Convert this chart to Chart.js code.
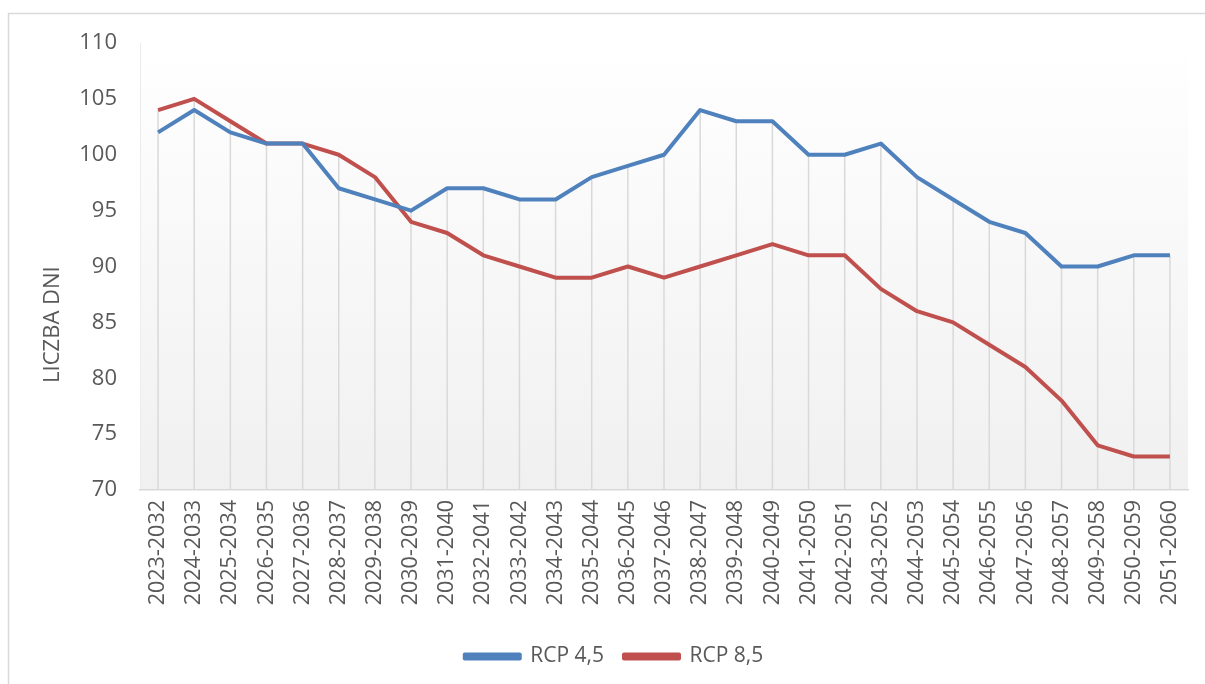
<!DOCTYPE html>
<html lang="pl">
<head>
<meta charset="utf-8">
<title>Liczba dni – RCP 4,5 i RCP 8,5</title>
<script src="https://cdn.jsdelivr.net/npm/chart.js@4/dist/chart.umd.min.js"></script>
<style>
    html, body { margin: 0; padding: 0; background: #ffffff; }
    #wrap { position: relative; width: 1205px; height: 684px; }
</style>
</head>
<body>
<div id="wrap"><canvas id="dniChart"></canvas></div>
<script>
// --- Dane ---
const okresy = [
    '2023-2032', '2024-2033', '2025-2034', '2026-2035', '2027-2036', '2028-2037',
    '2029-2038', '2030-2039', '2031-2040', '2032-2041', '2033-2042', '2034-2043',
    '2035-2044', '2036-2045', '2037-2046', '2038-2047', '2039-2048', '2040-2049',
    '2041-2050', '2042-2051', '2043-2052', '2044-2053', '2045-2054', '2046-2055',
    '2047-2056', '2048-2057', '2049-2058', '2050-2059', '2051-2060'
];
const rcp45 = [102, 104, 102, 101, 101, 97, 96, 95, 97, 97, 96, 96, 98, 99, 100,
               104, 103, 103, 100, 100, 101, 98, 96, 94, 93, 90, 90, 91, 91];
const rcp85 = [104, 105, 103, 101, 101, 100, 98, 94, 93, 91, 90, 89, 89, 90, 89,
               90, 91, 92, 91, 91, 88, 86, 85, 83, 81, 78, 74, 73, 73];
const osY = { min: 70, max: 110, krok: 5 };
const tytulOsiY = 'LICZBA DNI';

// Kolory w stylu Office
const kolory = {
    niebieski: '#4F81BD',
    czerwony: '#C0504D',
    tekst: '#595959',
    linie: '#d9d9d9'
};
const FONT = "'Open Sans', 'Noto Sans', sans-serif";

// Tło obszaru wykresu (gradient) + ramka całego wykresu
const tloPlugin = {
    id: 'tlo',
    beforeDraw(chart) {
        const { ctx, chartArea: a } = chart;
        ctx.save();
        const g = ctx.createLinearGradient(0, a.top, 0, a.bottom);
        g.addColorStop(0, '#ffffff');
        g.addColorStop(1, '#f0f0f0');
        ctx.fillStyle = g;
        ctx.fillRect(a.left, a.top, a.right - a.left, a.bottom - a.top);
        ctx.strokeStyle = '#ececec';
        ctx.lineWidth = 1;
        ctx.beginPath();
        ctx.moveTo(a.left + 0.5, a.top);
        ctx.lineTo(a.left + 0.5, a.bottom);
        ctx.stroke();
        // ramka zewnętrzna
        ctx.strokeStyle = kolory.linie;
        ctx.lineWidth = 1.5;
        ctx.beginPath();
        ctx.moveTo(8.5, chart.height);
        ctx.lineTo(8.5, 13.5);
        ctx.lineTo(chart.width, 13.5);
        ctx.stroke();
        ctx.restore();
    }
};

// Linie pionowe od najwyższego punktu do osi X
const liniePionowePlugin = {
    id: 'liniePionowe',
    beforeDatasetsDraw(chart) {
        const { ctx, scales: { x, y } } = chart;
        ctx.save();
        ctx.strokeStyle = kolory.linie;
        ctx.lineWidth = 1.5;
        okresy.forEach((_, i) => {
            const px = x.getPixelForValue(i);
            const top = y.getPixelForValue(Math.max(rcp45[i], rcp85[i]));
            ctx.beginPath();
            ctx.moveTo(px, top);
            ctx.lineTo(px, y.bottom);
            ctx.stroke();
        });
        ctx.restore();
    }
};

// Tytuł osi Y – obrócony, przesunięty nieco poniżej środka osi
const tytulYPlugin = {
    id: 'tytulY',
    afterDraw(chart) {
        const { ctx, chartArea: a } = chart;
        ctx.save();
        ctx.translate(53, a.top + (a.bottom - a.top) * 0.63);
        ctx.rotate(-Math.PI / 2);
        ctx.font = "22px " + FONT;
        ctx.fillStyle = kolory.tekst;
        ctx.textAlign = 'center';
        ctx.textBaseline = 'middle';
        ctx.fillText(tytulOsiY, 0, 0);
        ctx.restore();
    }
};

const ctx = document.getElementById('dniChart');
new Chart(ctx, {
    type: 'line',
    data: {
        labels: okresy,
        datasets: [
            {
                label: 'RCP 4,5',
                data: rcp45,
                borderColor: kolory.niebieski,
                backgroundColor: kolory.niebieski,
                borderWidth: 4,
                pointRadius: 0,
                tension: 0,
                borderJoinStyle: 'round'
            },
            {
                label: 'RCP 8,5',
                data: rcp85,
                borderColor: kolory.czerwony,
                backgroundColor: kolory.czerwony,
                borderWidth: 4,
                pointRadius: 0,
                tension: 0,
                borderJoinStyle: 'round'
            }
        ]
    },
    options: {
        responsive: true,
        maintainAspectRatio: false,
        animation: false,
        layout: { padding: { left: 40, right: 17, top: 43, bottom: 7 } },
        scales: {
            x: {
                offset: true,
                grid: { display: false, drawTicks: false },
                border: { display: true, color: kolory.linie, width: 1.5 },
                ticks: {
                    color: kolory.tekst,
                    font: { family: FONT, size: 21.5 },
                    minRotation: 90,
                    maxRotation: 90,
                    autoSkip: false,
                    padding: 10
                },
                afterFit(scale) {
                    scale.height = 136;
                    scale.paddingLeft = 0;
                    scale.paddingRight = 0;
                }
            },
            y: {
                min: osY.min,
                max: osY.max,
                grid: { display: false, drawTicks: false },
                border: { display: false },
                ticks: {
                    stepSize: osY.krok,
                    color: kolory.tekst,
                    font: { family: FONT, size: 22 },
                    padding: 23
                },
                afterFit(scale) { scale.width = 100; }
            }
        },
        plugins: {
            legend: {
                position: 'bottom',
                labels: {
                    color: kolory.tekst,
                    font: { family: FONT, size: 21 },
                    boxWidth: 55,
                    boxHeight: 4,
                    padding: 20
                }
            },
            tooltip: { enabled: false }
        }
    },
    plugins: [tloPlugin, liniePionowePlugin, tytulYPlugin]
});
</script>
</body>
</html>
